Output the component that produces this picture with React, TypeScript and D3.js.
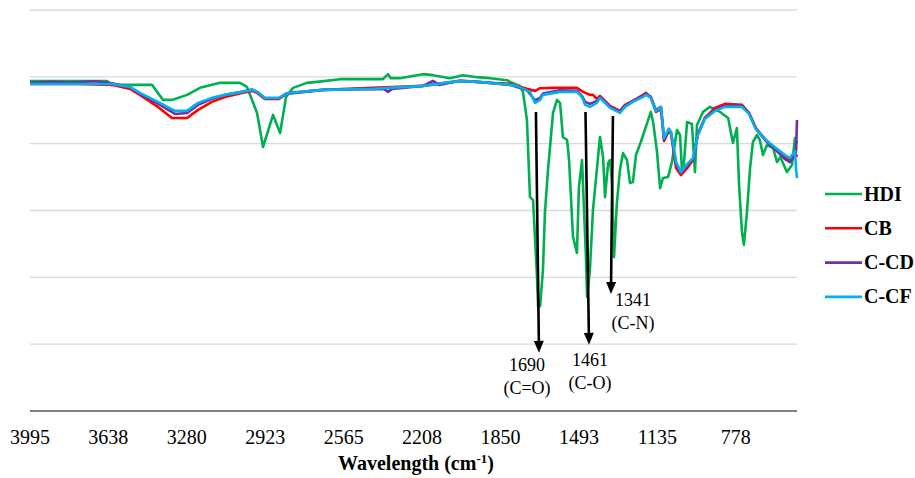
import * as d3 from 'd3';
import React from 'react';

// FTIR spectra, [wavenumber cm-1, transmittance %]
const hdi: [number, number][] = [
  [3995, 98.75], [3644, 98.75], [3621, 97.6], [3439, 97.6], [3389, 93.1], [3348, 93.1],
  [3279, 94.6], [3220, 96.7], [3129, 98.2], [3038, 98.2], [3006, 97.0], [2960, 89.2],
  [2933, 79.0], [2887, 88.6], [2855, 83.2], [2828, 94.0], [2796, 96.7], [2733, 98.2],
  [2687, 98.5], [2582, 99.3], [2386, 99.3], [2363, 100.8], [2350, 99.6], [2309, 99.6],
  [2204, 100.8], [2158, 100.5], [2081, 99.6], [2021, 100.5], [1958, 99.9], [1898, 99.6],
  [1821, 99.0], [1807, 98.5], [1762, 97.3], [1748, 95.5], [1730, 87.1], [1716, 64.0],
  [1702, 63.1], [1684, 40.1], [1679, 31.1], [1670, 31.4], [1657, 42.2], [1648, 59.3],
  [1634, 72.1], [1611, 89.2], [1593, 93.1], [1579, 92.2], [1566, 82.0], [1547, 81.1],
  [1538, 75.1], [1520, 52.1], [1502, 47.3], [1493, 67.0], [1479, 75.1], [1474, 67.0],
  [1461, 46.1], [1456, 34.1], [1443, 42.2], [1429, 60.1], [1397, 82.0], [1383, 76.0],
  [1374, 64.0], [1360, 74.2], [1351, 75.1], [1342, 68.2], [1333, 46.1], [1320, 62.2],
  [1306, 72.1], [1292, 77.2], [1274, 75.1], [1260, 68.2], [1247, 68.5], [1233, 76.6],
  [1211, 80.5], [1165, 89.5], [1155, 86.5], [1137, 77.5], [1123, 66.7], [1110, 69.7],
  [1087, 70.0], [1069, 74.5], [1046, 84.1], [1032, 82.6], [1023, 71.5], [1015, 73.6],
  [1000, 86.5], [978, 85.9], [964, 71.5], [955, 85.6], [927, 89.5], [896, 91.0],
  [850, 89.5], [813, 87.7], [791, 80.2], [773, 84.7], [763, 67.6], [750, 53.6],
  [741, 49.7], [727, 59.6], [713, 72.7], [700, 80.5], [681, 82.6], [668, 81.0],
  [654, 76.6], [636, 79.6], [608, 78.7], [590, 74.5], [575, 76.0], [545, 71.5],
  [522, 73.6], [508, 81.7], [499, 80.0],
];

const cb: [number, number][] = [
  [3995, 97.85], [3767, 97.9], [3621, 97.6], [3539, 96.4], [3494, 94.6], [3412, 91.0],
  [3348, 87.7], [3279, 87.7], [3229, 90.1], [3166, 92.5], [3106, 93.96], [3029, 95.2],
  [2983, 95.8], [2960, 95.2], [2924, 93.4], [2860, 93.4], [2828, 94.9], [2810, 95.2],
  [2660, 96.1], [2432, 96.7], [2204, 97.3], [2035, 98.8], [1958, 98.5], [1898, 98.2],
  [1807, 97.9], [1730, 96.4], [1693, 95.8], [1670, 96.6], [1611, 96.7], [1502, 96.7],
  [1474, 95.5], [1443, 94.6], [1429, 94.6], [1411, 93.4], [1397, 94.3], [1374, 92.8],
  [1351, 91.3], [1306, 89.8], [1283, 91.6], [1247, 92.8], [1201, 94.6], [1187, 95.2],
  [1165, 93.7], [1142, 89.5], [1119, 90.4], [1105, 80.8], [1083, 83.8], [1073, 82.9],
  [1050, 72.7], [1028, 70.6], [996, 73.0], [973, 75.1], [951, 82.6], [919, 87.7],
  [873, 90.7], [828, 91.9], [750, 91.6], [718, 89.2], [686, 84.7], [641, 81.1],
  [595, 78.1], [554, 75.7], [531, 75.1], [508, 77.5], [499, 76.0],
];

const ccd: [number, number][] = [
  [3995, 98.2], [3900, 98.5], [3800, 98.3], [3700, 98.7], [3621, 98.1], [3539, 96.9],
  [3494, 95.0], [3412, 92.0], [3334, 88.9], [3279, 89.2], [3229, 91.6], [3166, 93.4],
  [3106, 94.6], [3029, 95.5], [2983, 96.2], [2960, 95.5], [2924, 93.6], [2860, 93.6],
  [2828, 94.9], [2660, 96.1], [2432, 96.4], [2380, 96.3], [2363, 95.5], [2345, 96.4],
  [2204, 97.3], [2158, 98.8], [2130, 97.6], [2035, 98.8], [1958, 98.5], [1898, 98.2],
  [1807, 97.6], [1730, 96.0], [1693, 93.0], [1670, 93.7], [1657, 95.0], [1579, 96.0],
  [1502, 95.8], [1479, 94.3], [1465, 92.5], [1443, 91.9], [1411, 92.8], [1397, 93.96],
  [1374, 92.5], [1351, 91.0], [1306, 89.5], [1283, 91.3], [1247, 92.8], [1201, 94.3],
  [1187, 94.9], [1165, 94.0], [1142, 90.1], [1119, 91.0], [1105, 81.4], [1083, 84.4],
  [1073, 83.2], [1050, 73.9], [1028, 71.2], [996, 73.9], [973, 75.4], [951, 82.9],
  [919, 87.7], [873, 90.1], [828, 91.3], [750, 91.3], [718, 89.2], [686, 84.4],
  [641, 80.8], [595, 78.1], [554, 75.4], [531, 74.5], [508, 76.6], [503, 78.0], [499, 87.1],
];

const ccf: [number, number][] = [
  [3995, 97.85], [3767, 97.85], [3621, 97.85], [3539, 97.0], [3494, 95.2], [3412, 92.5],
  [3334, 89.8], [3279, 89.8], [3229, 92.2], [3166, 93.7], [3106, 94.6], [3029, 95.5],
  [2983, 96.1], [2960, 95.5], [2924, 93.7], [2860, 93.7], [2828, 94.9], [2810, 95.2],
  [2660, 96.1], [2432, 96.4], [2204, 97.3], [2035, 98.8], [1958, 98.5], [1898, 98.2],
  [1807, 97.6], [1775, 97.3], [1716, 95.5], [1693, 92.2], [1670, 93.1], [1657, 94.6],
  [1579, 95.5], [1502, 95.5], [1479, 93.96], [1465, 91.6], [1443, 91.0], [1411, 92.2],
  [1397, 93.7], [1374, 92.2], [1351, 90.7], [1306, 89.2], [1283, 91.0], [1247, 92.5],
  [1201, 94.0], [1187, 94.6], [1165, 93.7], [1142, 89.8], [1119, 91.0], [1105, 81.7],
  [1083, 84.4], [1073, 83.5], [1050, 74.5], [1028, 71.5], [996, 74.2], [973, 75.7],
  [951, 82.6], [919, 87.4], [873, 89.8], [828, 91.0], [750, 91.0], [718, 88.9],
  [686, 84.4], [641, 81.1], [595, 78.7], [554, 76.6], [531, 75.7], [508, 77.8],
  [503, 72.1], [499, 69.7],
];

const seriesNames = ['HDI', 'CB', 'C-CD', 'C-CF'];
const seriesColors = ['#00B050', '#FF0000', '#7030A0', '#00B0F0'];
const seriesData = [hdi, cb, ccd, ccf];

const xTickValues = [3995, 3638, 3280, 2923, 2565, 2208, 1850, 1493, 1135, 778];
const gridValues = [20, 40, 60, 80, 100, 120];

// peak annotations: arrow start / tip in data units
const noteLabels = ['1690', '1461', '1341'];
const noteGroups = ['(C=O)', '(C-O)', '(C-N)'];
const noteFrom: [number, number][] = [[1689, 89.5], [1463, 89.5], [1338, 88.3]];
const noteTo: [number, number][] = [[1675, 17.4], [1447, 19.8], [1347, 35.0]];

const W = 915;
const H = 478;
const margin = { top: 10, right: 118, bottom: 67, left: 30 };
const font = '"Liberation Serif", "Times New Roman", serif';

export default function App() {
  const x = d3.scaleLinear().domain([3995, 499]).range([margin.left, W - margin.right]);
  const y = d3.scaleLinear().domain([0, 120]).range([H - margin.bottom, margin.top]);

  const line = d3.line<[number, number]>()
    .x(d => x(d[0]))
    .y(d => y(d[1]));

  const noteDx = [-12, 1, 22];
  const noteDy = [18, 21, 12];

  return (
    <div style={{ position: 'absolute', left: 0, top: 0 }}>
      <svg width={W} height={H} style={{ display: 'block', background: '#fff' }}>
        <defs>
          <marker id="arrow" viewBox="0 0 10 12" refX="5" refY="12" markerWidth="10" markerHeight="12"
            markerUnits="userSpaceOnUse" orient="auto-start-reverse">
            <path d="M0,0 L10,0 L5,12 Z" fill="#000" transform="rotate(0)" />
          </marker>
        </defs>

        {gridValues.map(v => (
          <line key={v} x1={x(3995)} x2={x(499)} y1={y(v)} y2={y(v)} stroke="#d9d9d9" strokeWidth={1.3} />
        ))}
        <line x1={x(3995)} x2={x(499)} y1={y(0)} y2={y(0)} stroke="#000" strokeWidth={1.2} />

        {xTickValues.map(t => (
          <text key={t} x={x(t)} y={444} textAnchor="middle" fontFamily={font} fontSize={20} fill="#000">
            {t}
          </text>
        ))}
        <text x={416} y={470} textAnchor="middle" fontFamily={font} fontSize={20} fontWeight="bold" fill="#000">
          Wavelength (cm<tspan dy={-7} fontSize={13}>-1</tspan><tspan dy={7}>)</tspan>
        </text>

        {seriesData.map((d, i) => (
          <path key={seriesNames[i]} d={line(d) || ''} fill="none" stroke={seriesColors[i]}
            strokeWidth={2.6} strokeLinejoin="round" />
        ))}

        {noteLabels.map((lab, i) => {
          const x1 = x(noteFrom[i][0]);
          const y1 = y(noteFrom[i][1]);
          const x2 = x(noteTo[i][0]);
          const y2 = y(noteTo[i][1]);
          // shorten the shaft so the head sits on the tip
          const len = Math.hypot(x2 - x1, y2 - y1);
          const sx = x2 - ((x2 - x1) / len) * 11;
          const sy = y2 - ((y2 - y1) / len) * 11;
          const ang = (Math.atan2(y2 - y1, x2 - x1) * 180) / Math.PI - 90;
          return (
            <g key={lab}>
              <line x1={x1} y1={y1} x2={sx} y2={sy} stroke="#000" strokeWidth={2.6} />
              <path d="M-5,-12 L5,-12 L0,0 Z" fill="#000" transform={`translate(${x2},${y2}) rotate(${ang})`} />
              <text x={x2 + noteDx[i]} y={y2 + noteDy[i]} textAnchor="middle" fontFamily={font} fontSize={18} fill="#000">
                {lab}
              </text>
              <text x={x2 + noteDx[i]} y={y2 + noteDy[i] + 23} textAnchor="middle" fontFamily={font} fontSize={18} fill="#000">
                {noteGroups[i]}
              </text>
            </g>
          );
        })}

        {seriesNames.map((name, i) => (
          <g key={name} transform={`translate(825,${194 + i * 34.3})`}>
            <line x1={0} x2={37} y1={0} y2={0} stroke={seriesColors[i]} strokeWidth={2.6} />
            <text x={39} y={6.5} fontFamily={font} fontSize={20} fontWeight="bold" fill="#000">{name}</text>
          </g>
        ))}
      </svg>
    </div>
  );
}
